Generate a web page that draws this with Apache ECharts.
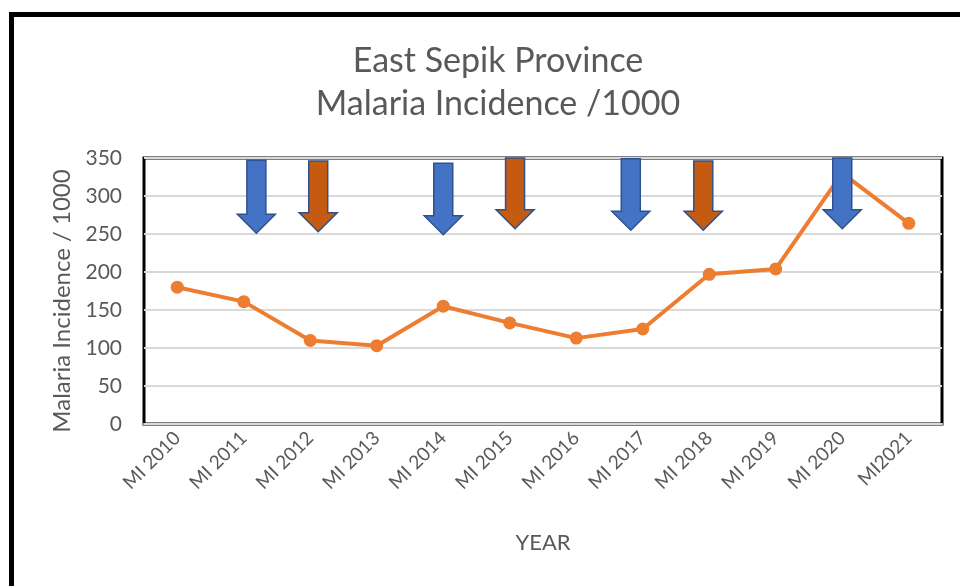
<!DOCTYPE html>
<html>
<head>
<meta charset="utf-8">
<script src="https://cdn.jsdelivr.net/npm/echarts@6/dist/echarts.min.js"></script>
<style>
    html, body { margin: 0; padding: 0; background: #fff; }
    #chart { width: 960px; height: 586px; }
</style>
</head>
<body>
<div id="chart"></div>
<script>
// data
const years = ['MI 2010', 'MI 2011', 'MI 2012', 'MI 2013', 'MI 2014', 'MI 2015',
    'MI 2016', 'MI 2017', 'MI 2018', 'MI 2019', 'MI 2020', 'MI2021'];
const incidence = [180, 161, 110, 103, 155, 133, 113, 125, 197, 204, 330, 264];

// arrows: position in category units, top value, tip value, colour
const arrowPos = [1.19, 2.12, 4.0, 5.08, 6.82, 7.91, 10.0];
const arrowTop = [347, 346, 343, 350, 349, 346, 350];
const arrowTip = [251, 253, 249, 257, 255, 255, 257];
const arrowColor = ['#4472C4', '#C55A11', '#4472C4', '#C55A11', '#4472C4', '#C55A11', '#4472C4'];

const textColor = '#595959';
const font = 'Lato';

var chart = echarts.init(document.getElementById('chart'));

function renderArrow(params, api) {
    const top = api.coord([api.value(0), api.value(1)]);
    const tip = api.coord([api.value(0), api.value(2)]);
    const cx = top[0];
    const sw = 9.5, hw = 19, hh = 19;
    const neck = tip[1] - hh;
    return {
        type: 'polygon',
        shape: {
            points: [
                [cx - sw, top[1]], [cx + sw, top[1]], [cx + sw, neck], [cx + hw, neck],
                [cx, tip[1]], [cx - hw, neck], [cx - sw, neck]
            ]
        },
        style: {
            fill: arrowColor[params.dataIndex],
            stroke: '#2F528F',
            lineWidth: 1.5
        }
    };
}

chart.setOption({
    animation: false,
    title: {
        text: 'East Sepik Province\nMalaria Incidence /1000',
        left: 493,
        top: 35,
        textAlign: 'center',
        textStyle: {
            fontFamily: font,
            fontWeight: 'normal',
            fontSize: 34,
            lineHeight: 43,
            color: textColor
        }
    },
    graphic: [{
        type: 'rect',
        silent: true,
        shape: { x: 11.5, y: 14.5, width: 1200, height: 1000 },
        style: { fill: 'none', stroke: '#000', lineWidth: 5 }
    }],
    grid: {
        left: 144,
        right: 18,
        top: 158,
        bottom: 162,
        show: true,
        borderColor: '#000',
        borderWidth: 3,
        backgroundColor: '#fff'
    },
    xAxis: [{
        type: 'category',
        data: years,
        boundaryGap: true,
        axisLine: { lineStyle: { color: '#D9D9D9', width: 2 } },
        axisTick: { show: false },
        axisLabel: {
            interval: 0,
            rotate: 45,
            margin: 11,
            fontFamily: font,
            fontSize: 19,
            color: textColor
        },
        name: 'YEAR',
        nameLocation: 'middle',
        nameGap: 108,
        nameTextStyle: { fontFamily: font, fontSize: 22, color: textColor }
    }, {
        type: 'value',
        min: -0.5,
        max: 11.5,
        show: false
    }],
    yAxis: {
        type: 'value',
        min: 0,
        max: 350,
        interval: 50,
        axisLine: { show: false },
        axisTick: { show: false },
        splitLine: { lineStyle: { color: '#D9D9D9', width: 2 } },
        axisLabel: {
            margin: 22,
            fontFamily: font,
            fontSize: 21,
            color: textColor
        },
        name: 'Malaria Incidence / 1000',
        nameLocation: 'middle',
        nameGap: 68,
        nameTextStyle: { fontFamily: font, fontSize: 24, color: textColor, padding: [0, 20, 0, 0] }
    },
    series: [{
        type: 'line',
        data: incidence,
        symbol: 'circle',
        symbolSize: 13,
        lineStyle: { color: '#ED7D31', width: 4 },
        itemStyle: { color: '#ED7D31' },
        z: 3
    }, {
        type: 'custom',
        xAxisIndex: 1,
        yAxisIndex: 0,
        data: arrowPos.map((x, i) => [x, arrowTop[i], arrowTip[i]]),
        renderItem: renderArrow,
        clip: false,
        z: 5
    }]
});
</script>
</body>
</html>
